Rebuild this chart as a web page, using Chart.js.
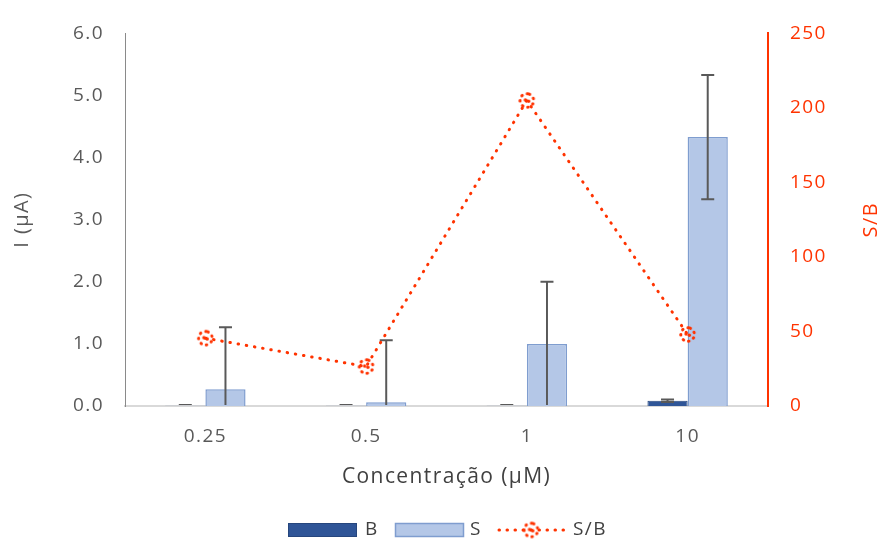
<!DOCTYPE html>
<html>
<head>
<meta charset="utf-8">
<script src="https://cdn.jsdelivr.net/npm/chart.js@4.4.1/dist/chart.umd.min.js"></script>
<style>
  html, body { margin: 0; padding: 0; background: #ffffff; }
  #wrap { width: 881px; height: 539px; position: relative; }
</style>
</head>
<body>
<div id="wrap"><canvas id="chart" width="881" height="539"></canvas></div>
<script>
// Concentrations (µM)
const categories = ['0.25', '0.5', '1', '10'];
// Current of blank (B) and sample (S), in µA, with their error values
const blankValues = [0.004, 0.003, 0.004, 0.085];
const blankErrors = [0.012, 0.012, 0.012, 0.02];
const signalValues = [0.27, 0.06, 1.0, 4.33];
const signalErrors = [1.0, 1.0, 1.0, 1.0];
// Signal-to-blank ratio
const ratioValues = [45.5, 26.5, 205, 48];

const FONT = '"Open Sans", "Noto Sans", sans-serif';
const SPACING = '1.4px';
const GREY = '#595959';
const RED = '#FF3300';
const BLUE_DARK = '#2F5597';
const BLUE_LIGHT = '#B4C7E7';
const BLUE_EDGE = '#7F9DCF';

// Dotted ring used as the S/B marker
function dottedRing(r, lw) {
  const size = Math.ceil(2 * r + lw + 2);
  const c = document.createElement('canvas');
  c.width = size; c.height = size;
  const g = c.getContext('2d');
  const m = size / 2;
  g.strokeStyle = RED;
  g.fillStyle = RED;
  g.lineWidth = lw;
  g.lineCap = 'round';
  g.setLineDash([0.5, 5.2]);
  g.beginPath();
  g.arc(m, m, r, -1.2, -1.2 + Math.PI * 2);
  g.stroke();
  [[-1.5, -0.5], [1.8, 0.8]].forEach(([dx, dy]) => {
    g.beginPath();
    g.arc(m + dx, m + dy, lw / 2 + 0.2, 0, Math.PI * 2);
    g.fill();
  });
  return c;
}
const ringMarker = dottedRing(6.8, 3);

// Slightly wider text tracking for all labels
const tracking = {
  id: 'tracking',
  beforeLayout(chart) { chart.ctx.letterSpacing = SPACING; },
  beforeDraw(chart) { chart.ctx.letterSpacing = SPACING; }
};

// Error bars drawn over each bar dataset
const errorBars = {
  id: 'errorBars',
  afterDatasetDraw(chart, args) {
    const ds = chart.data.datasets[args.index];
    if (!ds.errors) return;
    const ctx = chart.ctx;
    const y = chart.scales.y;
    const area = chart.chartArea;
    ctx.save();
    ctx.beginPath();
    ctx.rect(area.left, area.top - 2, area.right - area.left, area.bottom - area.top + 1);
    ctx.clip();
    ctx.strokeStyle = GREY;
    ctx.lineWidth = 2;
    args.meta.data.forEach((bar, i) => {
      const v = ds.data[i], e = ds.errors[i];
      const x = bar.x;
      const yHi = y.getPixelForValue(v + e);
      const yLo = y.getPixelForValue(v - e);
      ctx.beginPath();
      ctx.moveTo(x, yHi); ctx.lineTo(x, yLo);
      ctx.moveTo(x - 6.5, yHi); ctx.lineTo(x + 6.5, yHi);
      ctx.moveTo(x - 6.5, yLo); ctx.lineTo(x + 6.5, yLo);
      ctx.stroke();
    });
    ctx.restore();
  }
};

// Axis titles and legend
const decorations = {
  id: 'decorations',
  afterDraw(chart) {
    const ctx = chart.ctx;
    const area = chart.chartArea;
    const midY = (area.top + area.bottom) / 2;
    ctx.save();
    ctx.letterSpacing = SPACING;
    ctx.textBaseline = 'middle';

    ctx.fillStyle = GREY;
    ctx.font = '20px ' + FONT;
    ctx.save();
    ctx.translate(22, midY);
    ctx.rotate(-Math.PI / 2);
    ctx.textAlign = 'center';
    ctx.fillText('I (µA)', 0, 0);
    ctx.restore();

    ctx.fillStyle = RED;
    ctx.save();
    ctx.translate(871, midY);
    ctx.rotate(-Math.PI / 2);
    ctx.textAlign = 'center';
    ctx.fillText('S/B', 0, 0);
    ctx.restore();

    ctx.fillStyle = '#404040';
    ctx.font = '21px ' + FONT;
    ctx.textAlign = 'center';
    ctx.fillText('Concentração (µM)', (area.left + area.right) / 2, 477);

    // legend
    const ly = 530;
    ctx.font = '19px ' + FONT;
    ctx.textAlign = 'left';
    ctx.fillStyle = BLUE_DARK;
    ctx.fillRect(288, ly - 7, 69, 14);
    ctx.strokeStyle = '#26467d';
    ctx.lineWidth = 1;
    ctx.strokeRect(288.5, ly - 6.5, 68, 13);
    ctx.fillStyle = '#404040';
    ctx.fillText('B', 365, ly);

    ctx.fillStyle = BLUE_LIGHT;
    ctx.fillRect(395, ly - 7, 69, 14);
    ctx.strokeStyle = BLUE_EDGE;
    ctx.lineWidth = 1.5;
    ctx.strokeRect(395.5, ly - 6.5, 68, 13);
    ctx.fillStyle = '#404040';
    ctx.fillText('S', 470, ly);

    ctx.strokeStyle = RED;
    ctx.lineWidth = 3;
    ctx.lineCap = 'round';
    ctx.setLineDash([0.5, 7.5]);
    ctx.beginPath();
    ctx.moveTo(499, ly); ctx.lineTo(564, ly);
    ctx.stroke();
    ctx.setLineDash([]);
    ctx.drawImage(ringMarker, 531 - ringMarker.width / 2, ly - ringMarker.height / 2);
    ctx.fillStyle = '#404040';
    ctx.fillText('S/B', 573, ly);
    ctx.restore();
  }
};

new Chart(document.getElementById('chart'), {
  type: 'bar',
  data: {
    labels: categories,
    datasets: [
      {
        label: 'B',
        data: blankValues,
        errors: blankErrors,
        yAxisID: 'y',
        order: 1,
        backgroundColor: BLUE_DARK,
        borderColor: '#26467d',
        borderWidth: 1
      },
      {
        label: 'S',
        data: signalValues,
        errors: signalErrors,
        yAxisID: 'y',
        order: 2,
        backgroundColor: BLUE_LIGHT,
        borderColor: BLUE_EDGE,
        borderWidth: 1.5
      },
      {
        type: 'line',
        label: 'S/B',
        data: ratioValues,
        yAxisID: 'y1',
        order: 0,
        borderColor: RED,
        borderWidth: 3,
        borderDash: [0.5, 7.8],
        borderCapStyle: 'round',
        pointStyle: ringMarker,
        pointRadius: 8,
        fill: false,
        tension: 0
      }
    ]
  },
  options: {
    responsive: false,
    animation: false,
    devicePixelRatio: 1,
    layout: { padding: { top: 28, left: 0, right: 0, bottom: 0 } },
    datasets: { bar: { categoryPercentage: 0.5, barPercentage: 1 } },
    plugins: { legend: { display: false }, tooltip: { enabled: false } },
    scales: {
      x: {
        offset: true,
        grid: { display: false, drawTicks: false },
        border: { display: true, color: '#d9d9d9', width: 2 },
        ticks: { color: GREY, font: { size: 19, family: FONT }, padding: 19 },
        afterFit(scale) { scale.height = 133; }
      },
      y: {
        position: 'left',
        min: 0, max: 6,
        grid: { display: false, drawTicks: false },
        border: { display: true, color: '#8a8a8a', width: 1 },
        ticks: {
          stepSize: 1, color: GREY, font: { size: 19, family: FONT }, padding: 21,
          callback: v => Number(v).toFixed(1)
        },
        afterFit(scale) { scale.width = 125; }
      },
      y1: {
        position: 'right',
        min: 0, max: 250,
        grid: { display: false, drawTicks: false },
        border: { display: true, color: RED, width: 2 },
        ticks: { stepSize: 50, color: RED, font: { size: 19, family: FONT }, padding: 22 },
        afterFit(scale) { scale.width = 113; }
      }
    }
  },
  plugins: [tracking, errorBars, decorations]
});
</script>
</body>
</html>
